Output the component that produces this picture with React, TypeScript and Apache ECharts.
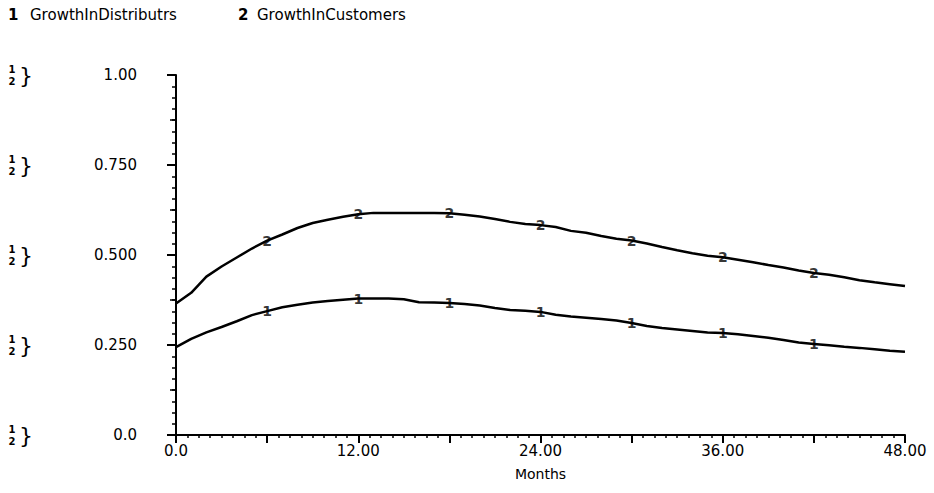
import React, { useEffect, useRef } from "react";
import * as echarts from "echarts";

const months = [
  0, 1, 2, 3, 4, 5, 6, 7, 8, 9, 10, 11, 12, 13, 14, 15, 16, 17, 18, 19, 20, 21, 22, 23, 24,
  25, 26, 27, 28, 29, 30, 31, 32, 33, 34, 35, 36, 37, 38, 39, 40, 41, 42, 43, 44, 45, 46, 47, 48,
];

const growthInDistributrs = [
  0.244, 0.267, 0.285, 0.3, 0.316, 0.333, 0.344, 0.355, 0.362, 0.368, 0.372, 0.376, 0.379,
  0.379, 0.379, 0.377, 0.369, 0.368, 0.367, 0.364, 0.36, 0.353, 0.347, 0.345, 0.342,
  0.334, 0.329, 0.326, 0.322, 0.318, 0.311, 0.303, 0.297, 0.293, 0.289, 0.285, 0.283,
  0.28, 0.275, 0.27, 0.264, 0.257, 0.253, 0.249, 0.245, 0.242, 0.238, 0.234, 0.231,
];

const growthInCustomers = [
  0.365, 0.395, 0.44, 0.468, 0.493, 0.518, 0.54, 0.557, 0.575, 0.589, 0.598, 0.606, 0.613,
  0.617, 0.617, 0.617, 0.617, 0.617, 0.616, 0.612, 0.607, 0.6, 0.592, 0.586, 0.583,
  0.578, 0.567, 0.562, 0.553, 0.545, 0.54, 0.532, 0.522, 0.513, 0.505, 0.498, 0.494,
  0.487, 0.48, 0.472, 0.465, 0.457, 0.45, 0.445, 0.438, 0.43, 0.424, 0.419, 0.414,
];

const markerMonths = [6, 12, 18, 24, 30, 36, 42];

const seriesNames = ["GrowthInDistributrs", "GrowthInCustomers"];
const seriesNumbers = ["1", "2"];

const xTickValues = [0, 12, 24, 36, 48];
const xTickLabels = ["0.0", "12.00", "24.00", "36.00", "48.00"];
const yTickValues = [0, 0.25, 0.5, 0.75, 1];
const yTickLabels = ["0.0", "0.250", "0.500", "0.750", "1.00"];
const xAxisName = "Months";

const FONT = "DejaVu Sans";

function labelFor(values: number[], labels: string[], v: number): string {
  for (let i = 0; i < values.length; i++) {
    if (Math.abs(values[i] - v) < 1e-6) return labels[i];
  }
  return "";
}

export default function App() {
  const ref = useRef<HTMLDivElement>(null);

  useEffect(() => {
    if (!ref.current) return;
    const chart = echarts.init(ref.current, null, { renderer: "svg" });

    const lineData = [growthInDistributrs, growthInCustomers].map((arr) =>
      months.map((m, i) => [m, arr[i]])
    );
    const markerData = [growthInDistributrs, growthInCustomers].map((arr) =>
      markerMonths.map((m) => [m, arr[months.indexOf(m)]])
    );

    const baseY = {
      type: "value" as const,
      min: 0,
      max: 1,
      gridIndex: 0,
      position: "left" as const,
      splitLine: { show: false },
    };

    const legendNum = { fontFamily: FONT, fontWeight: "bold", fontSize: 15, fill: "#000" };
    const legendTxt = { fontFamily: FONT, fontSize: 15, fill: "#000" };

    const option: any = {
      animation: false,
      backgroundColor: "#ffffff",
      grid: { left: 176, right: 29, top: 75, bottom: 58, containLabel: false, outerBoundsMode: "none" },
      graphic: [
        { type: "text", left: 8, top: 7, style: { text: seriesNumbers[0], ...legendNum } },
        { type: "text", left: 30, top: 7, style: { text: seriesNames[0], ...legendTxt } },
        { type: "text", left: 238, top: 7, style: { text: seriesNumbers[1], ...legendNum } },
        { type: "text", left: 257, top: 7, style: { text: seriesNames[1], ...legendTxt } },
      ],
      xAxis: {
        type: "value",
        min: 0,
        max: 48,
        interval: 6,
        name: xAxisName,
        nameLocation: "middle",
        nameGap: 32,
        nameTextStyle: { fontFamily: FONT, fontSize: 14, color: "#000" },
        axisLine: { show: true, onZero: false, lineStyle: { color: "#000", width: 2 } },
        axisTick: { show: true, length: 8, lineStyle: { color: "#000", width: 2 } },
        minorTick: { show: true, splitNumber: 8, length: 3, lineStyle: { color: "#000", width: 1.5 } },
        splitLine: { show: false },
        minorSplitLine: { show: false },
        axisLabel: {
          margin: 8,
          fontFamily: FONT,
          fontSize: 15,
          color: "#000",
          formatter: (v: number) => labelFor(xTickValues, xTickLabels, v),
        },
      },
      yAxis: [
        {
          ...baseY,
          interval: 0.25,
          axisLine: { show: true, onZero: false, lineStyle: { color: "#000", width: 2 } },
          axisTick: { show: true, length: 9, lineStyle: { color: "#000", width: 2 } },
          minorTick: { show: true, splitNumber: 8, length: 4, lineStyle: { color: "#000", width: 1.5 } },
          axisLabel: {
            margin: 39,
            fontFamily: FONT,
            fontSize: 15,
            color: "#000",
            formatter: (v: number) => labelFor(yTickValues, yTickLabels, v),
          },
        },
        {
          ...baseY,
          interval: 0.125,
          axisLine: { show: false },
          axisTick: { show: true, length: 6, lineStyle: { color: "#000", width: 1.5 } },
          axisLabel: { show: false },
        },
        {
          ...baseY,
          interval: 0.25,
          axisLine: { show: false },
          axisTick: { show: false },
          axisLabel: {
            margin: 164,
            align: "center",
            verticalAlign: "middle",
            formatter: () => "{n|" + seriesNumbers[0] + "}\n{n|" + seriesNumbers[1] + "}",
            rich: {
              n: { fontFamily: FONT, fontWeight: "bold", fontSize: 10, lineHeight: 12, color: "#000", align: "center" },
            },
          },
        },
        {
          ...baseY,
          interval: 0.25,
          axisLine: { show: false },
          axisTick: { show: false },
          axisLabel: {
            margin: 150,
            align: "center",
            verticalAlign: "middle",
            fontFamily: FONT,
            fontSize: 22,
            color: "#000",
            formatter: () => "}",
          },
        },
      ],
      series: [
        ...lineData.map((d, k) => ({
          name: seriesNames[k],
          type: "line",
          data: d,
          xAxisIndex: 0,
          yAxisIndex: 0,
          symbol: "none",
          silent: true,
          lineStyle: { color: "#000", width: 2.5 },
          z: 2,
        })),
        ...markerData.map((d, k) => ({
          name: seriesNames[k] + " marks",
          type: "scatter",
          data: d,
          xAxisIndex: 0,
          yAxisIndex: 0,
          symbol: "rect",
          symbolSize: 1,
          silent: true,
          itemStyle: { color: "rgba(0,0,0,0)" },
          label: {
            show: true,
            position: "inside",
            formatter: seriesNumbers[k],
            fontFamily: FONT,
            fontWeight: "bold",
            fontSize: 14,
            color: "#000",
          },
          z: 3,
        })),
      ],
    };

    chart.setOption(option);
    return () => chart.dispose();
  }, []);

  return (
    <div
      ref={ref}
      style={{ position: "fixed", left: 0, top: 0, width: 934, height: 493, background: "#fff" }}
    />
  );
}
